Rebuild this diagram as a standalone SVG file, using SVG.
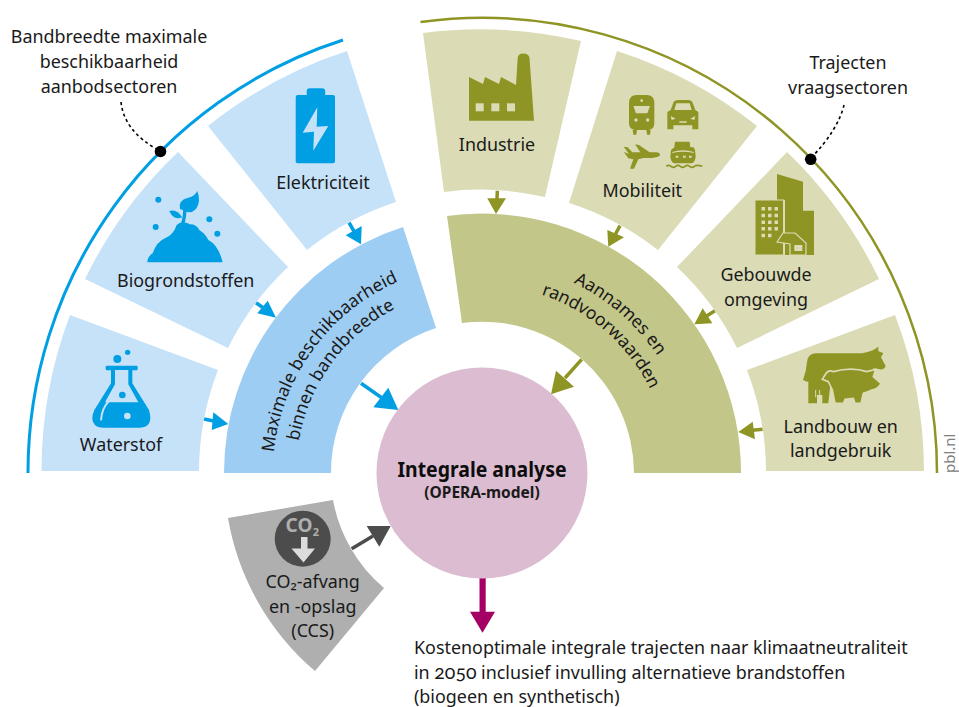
<svg xmlns="http://www.w3.org/2000/svg" xmlns:xlink="http://www.w3.org/1999/xlink" width="959" height="707" viewBox="0 0 959 707">
<style>
text{font-family:"Noto Sans","Open Sans","Liberation Sans",sans-serif;font-size:17.900px;fill:#1a1a1a;text-anchor:middle}
.ring{font-size:17.600px}
.lb{fill:#c6e2f9}.rb{fill:#9ecdf3}.lo{fill:#dbdcb5}.ro{fill:#c3c689}
.ib{fill:#009fe3}.io{fill:#8f9524}
.sb{stroke:#009fe3;stroke-width:3.5;fill:none}.so{stroke:#8f9524;stroke-width:3.5;fill:none}
.dot{fill:none;stroke:#000;stroke-width:1.6;stroke-dasharray:3 3}
</style>
<rect width="959" height="707" fill="#fff"/>
<path d="M28 473A454 454 0 0 1 343 40" fill="none" stroke="#009fe3" stroke-width="3"/>
<path d="M420.500 22A455 455 0 0 1 937 473" fill="none" stroke="#8f9524" stroke-width="2.500"/>
<g id="connectors">
<path class="dot" d="M121 102Q124 131 158 150"/>
<path class="dot" d="M844 105Q838 130 811 158"/>
<path class="sb" d="M204 419L216 421.500"/><path class="ib" d="M228.300 424L213.300 412.300L211.700 430Z"/>
<path class="sb" d="M256 302.700L265 309"/><path class="ib" d="M276 317.700L267.700 300.700L257.300 313.300Z"/>
<path class="sb" d="M349 222.700L355 233"/><path class="ib" d="M361 244.300L361.700 226L345.700 235.300Z"/>
<path class="sb" d="M361 383.300L382 398"/><path class="ib" d="M398.300 410L388.300 387.700L373.300 407.300Z"/>
<path d="M351.700 548.700L373 536" fill="none" stroke="#4c4c4c" stroke-width="3.500"/><path fill="#4c4c4c" d="M390.700 526L366.700 526L379.300 546.700Z"/>
<path class="so" d="M497.300 190.700L497 200"/><path class="io" d="M496 214L506 198.300L487.300 198.300Z"/>
<path class="so" d="M620 225.700L615 235"/><path class="io" d="M608.300 246.700L624 237.300L607.300 230Z"/>
<path class="so" d="M715 310.700L705 317"/><path class="io" d="M694.300 324.300L712.300 323.300L702.700 308.300Z"/>
<path class="so" d="M762.700 429.300L750 430.500"/><path class="io" d="M738.300 432L755 439.300L752.700 421.700Z"/>
<path class="so" d="M581.700 359.300L565 378"/><path class="io" d="M551 394.300L574 386.700L556 370.700Z"/>
<path d="M482.600 578V615" stroke="#a50064" stroke-width="6.200" fill="none"/><path fill="#a50064" d="M470 611.700H495L482.500 632.700Z"/>
</g>
<circle cx="160.500" cy="151.500" r="5.800" fill="#000"/>
<circle cx="810.700" cy="159.300" r="5.800" fill="#000"/>
<g id="waterstof">
<path class="lb" d="M41.500 471A441 441 0 0 1 70 315L218 370A283 283 0 0 0 199 471Z"/>
<g transform="translate(85 345) scale(.3333)">
<circle class="ib" cx="97" cy="42" r="12"/><circle class="ib" cx="128" cy="22" r="8"/>
<rect class="ib" x="62" y="62" width="96" height="14" rx="4"/>
<path class="ib" d="M78 75V115L28 195Q15 225 30 240Q38 248 55 248H165Q185 248 192 235Q200 222 192 195L142 115V75Z"/>
<path class="lb" d="M90 75V118L60 172H160L130 118V75Z"/>
<circle class="ib" cx="112" cy="150" r="10"/>
<circle class="lb" cx="127" cy="213" r="10"/>
<path d="M48 226Q50 190 72 168" fill="none" stroke="#c6e2f9" stroke-width="6"/>
</g>
<text x="121" y="451">Waterstof</text>
</g>
<g id="biogrondstoffen">
<path class="lb" d="M178 152L288 267A283 283 0 0 0 228 348L85 279A441 441 0 0 1 178 152Z"/>
<g transform="translate(140 185) scale(.3333)">
<path class="ib" d="M22 232Q22 215 38 205Q50 170 75 160Q100 150 110 120Q125 105 150 118Q170 118 178 135Q195 145 205 165Q235 180 248 232Z"/>
<path d="M127 118Q136 95 134 65" fill="none" stroke="#009fe3" stroke-width="10"/>
<path class="ib" d="M120 72Q114 45 145 38Q165 33 172 18Q184 50 168 72Q150 90 130 76Z"/>
<path class="ib" d="M88 78Q110 70 127 97Q100 108 88 78Z"/>
<circle class="ib" cx="55" cy="44" r="9"/><circle class="ib" cx="47" cy="126" r="9"/><circle class="ib" cx="208" cy="103" r="9"/><circle class="ib" cx="232" cy="146" r="9"/>
</g>
<text x="185.700" y="287">Biogrondstoffen</text>
</g>
<g id="elektriciteit">
<path class="lb" d="M208 126A442 442 0 0 1 347 51L396 202A284 284 0 0 0 307 250Z"/>
<rect class="ib" x="306.700" y="88.300" width="18.500" height="9" rx="3"/>
<rect class="ib" x="295.700" y="95" width="39.300" height="68.300" rx="2"/>
<path class="lb" d="M317.300 107.300L302.700 132.700L314 131.700L313.300 150.700L328.300 126L316.700 126.700Z"/>
<text x="323" y="189">Elektriciteit</text>
</g>
<g id="maximale-beschikbaarheid">
<path class="rb" d="M224 473A258 258 0 0 1 403 227L436 328A152 152 0 0 0 331 473Z"/>
<path id="b1" fill="none" d="M273 473A209 209 0 0 1 417.400 274.200"/>
<path id="b2" fill="none" d="M296 473A186 186 0 0 1 424.500 296.100"/>
<text class="ring"><textPath href="#b1" xlink:href="#b1" startOffset="50%">Maximale beschikbaarheid</textPath></text>
<text class="ring"><textPath href="#b2" xlink:href="#b2" startOffset="50%">binnen bandbreedte</textPath></text>
</g>
<g id="industrie">
<path class="lo" d="M423 33A442 442 0 0 1 581 41L545 197A284 284 0 0 0 444 192Z"/>
<path class="io" d="M469 77L483 84L485 77L499 84L501 77L516 85L517.700 58Q518 53.500 523 53.500Q529 53.500 529.500 58L534 120.700H469Z"/>
<g class="lo"><rect x="475.700" y="103.300" width="8" height="8"/><rect x="491.300" y="103.300" width="8" height="8"/><rect x="507" y="103.300" width="8" height="8"/></g>
<text x="497" y="150.700">Industrie</text>
</g>
<g id="mobiliteit">
<path class="lo" d="M617 51A442 442 0 0 1 757 126L658 250A284 284 0 0 0 569 203Z"/>
<g transform="translate(615 90) scale(.3333)">
<path class="io" d="M42 40Q42 15 65 15H95Q118 15 118 40V100Q118 118 100 120H60Q42 118 42 100Z"/>
<path class="io" d="M53 120H66L64 134H55ZM94 120H107L105 134H96Z"/>
<path class="lo" d="M55 48H105L97 70H63Z"/>
<circle class="lo" cx="80" cy="32" r="4"/><circle class="lo" cx="63" cy="90" r="5"/><circle class="lo" cx="98" cy="90" r="5"/>
<path class="io" d="M157 66L167 60L175 38Q178 30 190 30H218Q230 30 233 38L241 60L250 66V118H232V106H175V118H157Z"/>
<path class="lo" d="M178 60L184 40H224L230 60Z"/>
<path class="lo" d="M167 78L182 86L170 90ZM241 78L226 86L238 90ZM193 94H215V98H193Z"/>
<path class="io" d="M26 170L38 172L52 187H76L60 163L72 165L104 187H125Q137 190 135 196Q130 202 110 204H85L70 208L57 236H45L55 208L40 205L26 185L42 192Z"/>
<path class="io" d="M180 155H224L226 172H236L240 180L242 200Q240 218 230 220H178Q168 218 166 200L168 180L178 172Z"/>
<path class="lo" d="M182 197h8v6h-8zM204 197h8v6h-8zM222 197h8v6h-8zM172 186Q204 176 236 186V189Q204 181 172 189Z"/>
<path d="M154 229Q161 223 168 229T182 229T196 229T210 229T224 229T238 229T262 229" fill="none" stroke="#8f9524" stroke-width="5"/>
</g>
<text x="642.300" y="196.700">Mobiliteit</text>
</g>
<g id="gebouwde-omgeving">
<path class="lo" d="M787 152A442 442 0 0 1 879 279L737 348A284 284 0 0 0 677 267Z"/>
<path class="io" d="M777 174L803 181.700V210.700H814V255H785V200H777Z"/>
<rect class="io" x="755" y="200" width="28.500" height="55" stroke="#dbdcb5" stroke-width="1"/>
<path class="io" d="M777 242L783 233H795L806 243V255H790V244Z" stroke="#dbdcb5" stroke-width="1.200"/>
<path class="lo" d="M761.500 207h3.500v3.500h-3.500zM768 207h3.500v3.500h-3.500zM774.500 207h3.500v3.500h-3.500zM761.500 213.700h3.500v3.500h-3.500zM768 213.700h3.500v3.500h-3.500zM774.500 213.700h3.500v3.500h-3.500zM761.500 220.400h3.500v3.500h-3.500zM768 220.400h3.500v3.500h-3.500zM774.500 220.400h3.500v3.500h-3.500zM761.500 227h3.500v3.500h-3.500zM768 227h3.500v3.500h-3.500zM774.500 227h3.500v3.500h-3.500zM761.500 233.700h3.500v3.500h-3.500zM768 233.700h3.500v3.500h-3.500z"/>
<rect class="lo" x="794.300" y="245" width="8" height="6"/>
<text x="766" y="281">Gebouwde</text>
<text x="766" y="306">omgeving</text>
</g>
<g id="landbouw">
<path class="lo" d="M895 315A441 441 0 0 1 924 471H766A283 283 0 0 0 747 370Z"/>
<g transform="translate(795 340) scale(.3333)">
<path class="io" d="M36 125L24 120Q34 95 36 65Q38 42 62 40H200Q225 36 240 27L250 20V33L265 40L258 52L272 78Q268 90 255 88L235 85V100H110L100 190H82V165H66V190H40V125Z"/>
<path d="M62 150V172M74 150V172" stroke="#dbdcb5" stroke-width="3" fill="none"/>
<path class="io" stroke="#dbdcb5" stroke-width="5" d="M90 105Q100 88 115 95Q170 80 215 95L242 88L235 110L258 130Q250 148 230 150Q220 155 205 160L198 190H180L175 175L150 178L146 190H120L112 150L100 125L82 118Z"/>
</g>
<text x="840.700" y="433">Landbouw en</text>
<text x="840.700" y="457">landgebruik</text>
</g>
<g id="aannames">
<path class="ro" d="M447 216A259 259 0 0 1 741 473H634A152 152 0 0 0 462 323Z"/>
<path id="o1" fill="none" d="M482 262A211 211 0 0 1 691 443.600"/>
<path id="o2" fill="none" d="M482 285A188 188 0 0 1 668.200 446.800"/>
<text class="ring"><textPath href="#o1" xlink:href="#o1" startOffset="50%">Aannames en</textPath></text>
<text class="ring"><textPath href="#o2" xlink:href="#o2" startOffset="50%">randvoorwaarden</textPath></text>
</g>
<g id="integrale-analyse">
<circle cx="482" cy="473" r="105.500" fill="#dbbcd1"/>
<text x="482" y="477" textLength="169" lengthAdjust="spacingAndGlyphs" style="font-size:21px;font-weight:700;fill:#0d0d0d">Integrale analyse</text>
<text x="482" y="498" style="font-size:15.500px;font-weight:700">(OPERA-model)</text>
</g>
<g id="ccs">
<path fill="#aeafae" d="M228 518L333 500A151 151 0 0 0 384 588L315 671A258 258 0 0 1 228 518Z"/>
<circle cx="302.700" cy="538.700" r="28" fill="#4c4c4c"/>
<text x="299" y="532" style="font-size:19px;font-weight:700;fill:#aeafae">CO</text>
<text x="316" y="536" style="font-size:11px;font-weight:700;fill:#aeafae">2</text>
<path d="M301 537H307.500V548.500H315L303.500 562.500L291.500 548.500H301Z" fill="#dcdcdc"/>
<text x="312.700" y="588">CO₂-afvang</text>
<text x="312.700" y="613">en -opslag</text>
<text x="312.700" y="637">(CCS)</text>
</g>
<g id="uitkomst">
<text x="414" y="654" style="text-anchor:start">Kostenoptimale integrale trajecten naar klimaatneutraliteit</text>
<text x="414" y="679" style="text-anchor:start">in <tspan style="font-family:Lato,'Noto Sans',sans-serif;font-variant-numeric:oldstyle-nums;font-size:19.500px">2050</tspan> inclusief invulling alternatieve brandstoffen</text>
<text x="414" y="703" style="text-anchor:start">(biogeen en synthetisch)</text>
</g>
<g id="labels">
<text x="109" y="43">Bandbreedte maximale</text>
<text x="109" y="68">beschikbaarheid</text>
<text x="109" y="93">aanbodsectoren</text>
<text x="848" y="69">Trajecten</text>
<text x="848" y="94">vraagsectoren</text>
<text transform="translate(955 473) rotate(-90)" style="text-anchor:start;font-size:15px;fill:#808080">pbl.nl</text>
</g>
</svg>
